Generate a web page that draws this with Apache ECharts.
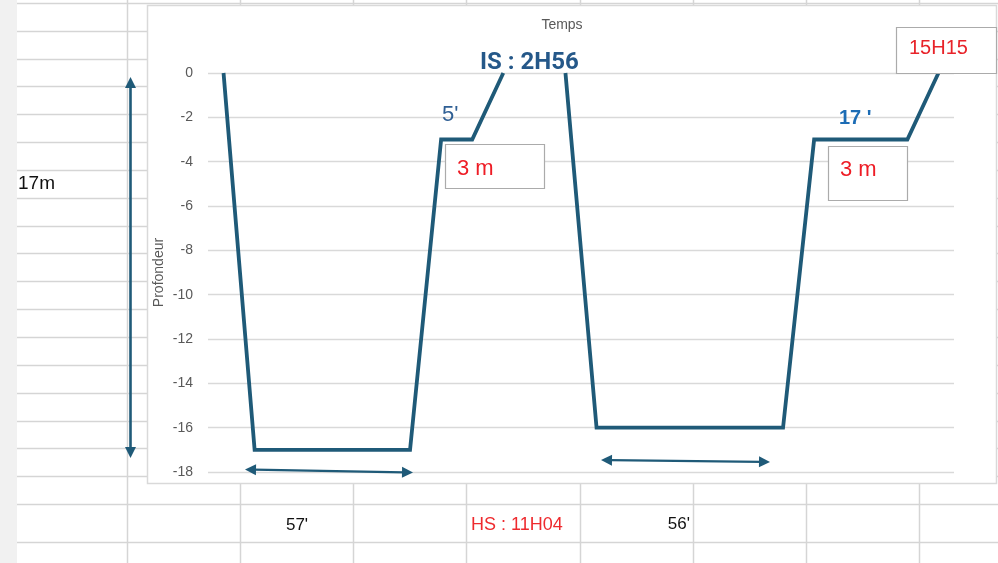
<!DOCTYPE html>
<html>
<head>
<meta charset="utf-8">
<title>Profil de plongée</title>
<script src="https://cdn.jsdelivr.net/npm/echarts@6.0.0/dist/echarts.min.js"></script>
<style>
  html, body { margin: 0; padding: 0; background: #ffffff; }
  #chart { width: 998px; height: 563px; }
</style>
</head>
<body>
<div id="chart"></div>
<script>
// Time steps of the two dives (labels are hidden on the axis)
const steps = ['1','2','3','4','5','6','7','8','9','10','11','12',
               '13','14','15','16','17','18','19','20','21','22','23','24'];
// Depth in metres at each step; null = surface interval (no line drawn)
const depth = [0, -17, -17, -17, -17, -17, -17, -3, -3, 0, null,
               0, -16, -16, -16, -16, -16, -16, -16, -3, -3, -3, -3, 0];
// Depth axis ticks
const depthMin = -18, depthMax = 0, depthStep = 2;

// Annotation texts
const surfaceInterval = 'IS : 2H56';
const stopDurations = ["5'", "17 '"];
const stopDepths = ['3 m', '3 m'];
const endTime = '15H15';
const maxDepthLabel = '17m';
const bottomTimes = ["57'", "56'"];
const surfaceTime = 'HS : 11H04';

const lineColor = '#1f5a78';
const gridGray = '#d5d5d5';

// Spreadsheet background rows / columns
const rowY = [3, 31, 59, 86, 114, 142, 170, 198, 226, 253, 281, 309, 337,
              365, 393, 421, 448, 476, 504, 542];
const colX = [127, 240, 353, 466, 580, 693, 806, 919];

const bg = [];
bg.push({ type: 'rect', z: -20, shape: { x: 0, y: 0, width: 17, height: 563 },
          style: { fill: '#f1f1f1' } });
rowY.forEach(y => bg.push({ type: 'line', z: -20,
  shape: { x1: 17, y1: y + 0.5, x2: 998, y2: y + 0.5 },
  style: { stroke: gridGray, lineWidth: 1.5 } }));
colX.forEach(x => bg.push({ type: 'line', z: -20,
  shape: { x1: x + 0.5, y1: 0, x2: x + 0.5, y2: 563 },
  style: { stroke: gridGray, lineWidth: 1.5 } }));
// Chart frame
bg.push({ type: 'rect', z: -15, shape: { x: 147.5, y: 5.5, width: 849, height: 478 },
          style: { fill: '#ffffff', stroke: '#d9d9d9', lineWidth: 1.5 } });

// Arrow helper: shaft plus triangular heads
function arrow(x1, y1, x2, y2, width) {
  const els = [];
  const dx = x2 - x1, dy = y2 - y1, len = Math.hypot(dx, dy);
  const ux = dx / len, uy = dy / len, px = -uy, py = ux;
  const hl = 11, hw = 5.5;
  els.push({ type: 'line', z: 20,
    shape: { x1: x1 + ux * hl * 0.8, y1: y1 + uy * hl * 0.8,
             x2: x2 - ux * hl * 0.8, y2: y2 - uy * hl * 0.8 },
    style: { stroke: lineColor, lineWidth: width } });
  [[x1, y1, 1], [x2, y2, -1]].forEach(([tx, ty, s]) => {
    const bx = tx + s * ux * hl, by = ty + s * uy * hl;
    els.push({ type: 'polygon', z: 20,
      shape: { points: [[tx, ty], [bx + px * hw, by + py * hw], [bx - px * hw, by - py * hw]] },
      style: { fill: lineColor } });
  });
  return els;
}

function box(x, y, w, h) {
  return { type: 'rect', z: 15, shape: { x: x + 0.5, y: y + 0.5, width: w, height: h },
           style: { fill: '#ffffff', stroke: '#ababab', lineWidth: 1.2 } };
}
function text(t, x, y, font, fill, align) {
  return { type: 'text', z: 25,
           style: { text: t, x: x, y: y, font: font, fill: fill,
                    textAlign: align || 'left', textVerticalAlign: 'middle' } };
}

const overlay = [].concat(
  arrow(130.5, 77, 130.5, 458, 2.6),
  arrow(245, 469.5, 413, 472.5, 2.4),
  arrow(601, 460, 770, 462, 2.4),
  [
    box(445, 144, 99, 44),
    box(828, 146, 79, 54),
    box(896, 27, 100, 46),
    text(surfaceInterval, 480, 63, 'bold 24px Roboto', '#255889'),
    text(stopDurations[0], 442, 115, '22px "Liberation Sans"', '#2f5f94'),
    text(stopDurations[1], 839, 118, 'bold 20px "Liberation Sans"', '#1c6cb5'),
    text(stopDepths[0], 457, 169, '22px "Liberation Sans"', '#ee1c25'),
    text(stopDepths[1], 840, 170, '22px "Liberation Sans"', '#ee1c25'),
    text(endTime, 909, 48, '20px "Liberation Sans"', '#e8232a'),
    text(maxDepthLabel, 18, 184, '19px "Liberation Sans"', '#111111'),
    text(bottomTimes[0], 297, 525, '17px "Liberation Sans"', '#111111', 'center'),
    text(bottomTimes[1], 690, 524, '17px "Liberation Sans"', '#111111', 'right'),
    text(surfaceTime, 471, 525, '18px "Liberation Sans"', '#ee2a2e')
  ]
);

const chart = echarts.init(document.getElementById('chart'), null, { renderer: 'canvas' });
chart.setOption({
  animation: false,
  backgroundColor: '#ffffff',
  grid: { left: 208, right: 44, top: 73, bottom: 91, containLabel: false },
  xAxis: {
    type: 'category',
    data: steps,
    position: 'top',
    boundaryGap: true,
    axisLine: { show: false },
    axisTick: { show: false },
    axisLabel: { show: false },
    splitLine: { show: false },
    name: 'Temps',
    nameLocation: 'middle',
    nameGap: 41,
    nameMoveOverlap: false,
    nameTextStyle: { color: '#595959', fontSize: 14, fontFamily: 'Liberation Sans',
                     padding: [0, 38, 0, 0] }
  },
  yAxis: {
    type: 'value',
    min: depthMin,
    max: depthMax,
    interval: depthStep,
    axisLine: { show: false },
    axisTick: { show: false },
    axisLabel: { color: '#595959', fontSize: 14, fontFamily: 'Liberation Sans', margin: 15 },
    splitLine: { lineStyle: { color: '#d9d9d9', width: 1.3 } },
    name: 'Profondeur',
    nameLocation: 'middle',
    nameRotate: 90,
    nameGap: 42,
    nameMoveOverlap: false,
    nameTextStyle: { color: '#595959', fontSize: 14, fontFamily: 'Liberation Sans' }
  },
  graphic: { elements: bg.concat(overlay) },
  series: [{
    type: 'line',
    data: depth,
    connectNulls: false,
    symbol: 'none',
    clip: false,
    lineStyle: { color: lineColor, width: 3.8, join: 'miter' },
    z: 5
  }]
});
</script>
</body>
</html>
